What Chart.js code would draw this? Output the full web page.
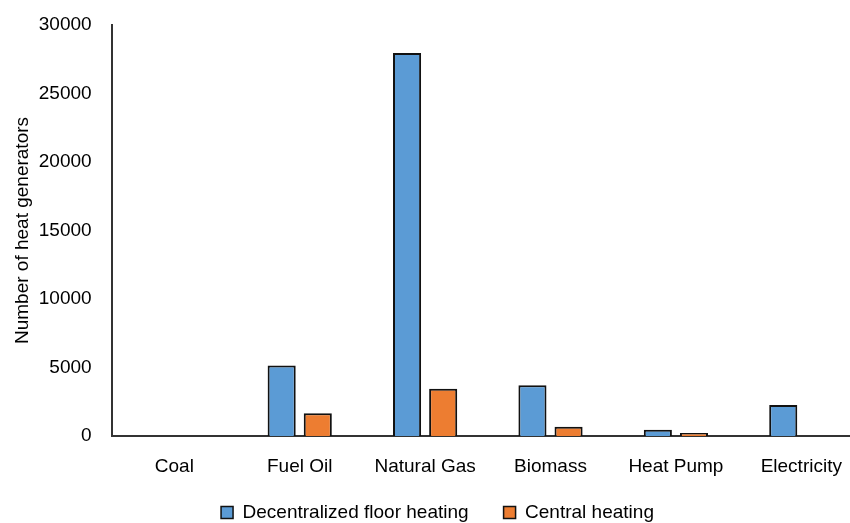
<!DOCTYPE html>
<html>
<head>
<meta charset="utf-8">
<script src="https://cdn.jsdelivr.net/npm/chart.js@4/dist/chart.umd.min.js"></script>
<style>
html,body{margin:0;padding:0;background:#fff;overflow:hidden;}
#wrap{width:850px;height:523px;overflow:hidden;}
</style>
</head>
<body>
<div id="wrap"><canvas id="c" width="864" height="523"></canvas></div>
<script>
const categories = ["Coal", "Fuel Oil", "Natural Gas", "Biomass", "Heat Pump", "Electricity"];
const decentralized = [0, 5150, 27950, 3700, 460, 2260];
const central = [0, 1660, 3450, 680, 220, 0];
const yTicks = [0, 5000, 10000, 15000, 20000, 25000, 30000];

const FONT = "'Liberation Sans', Arial, sans-serif";

const legendFix = {
  id: 'legendFix',
  afterInit(chart) {
    const lg = chart.legend;
    if (!lg) return;
    const origFit = lg.fit.bind(lg);
    lg.fit = function () { origFit(); this.height = 43; };
    const origDraw = lg._draw.bind(lg);
    lg._draw = function () {
      const ctx = this.ctx;
      ctx.save();
      ctx.translate(0, -12);
      origDraw();
      ctx.restore();
    };
  }
};

new Chart(document.getElementById('c'), {
  type: 'bar',
  data: {
    labels: categories,
    datasets: [
      {label: 'Decentralized floor heating', data: decentralized, backgroundColor: '#5B9BD5', borderColor: '#111', borderWidth: 2},
      {label: 'Central heating', data: central, backgroundColor: '#ED7D31', borderColor: '#111', borderWidth: 2}
    ]
  },
  plugins: [legendFix],
  options: {
    responsive: false,
    animation: false,
    devicePixelRatio: 1,
    categoryPercentage: 0.576,
    barPercentage: 0.778,
    layout: {padding: {top: 25, right: 0, left: 11, bottom: 0}},
    plugins: {
      tooltip: {enabled: false},
      legend: {
        position: 'bottom',
        labels: {
          font: {family: FONT, size: 19},
          color: '#000',
          boxWidth: 12,
          boxHeight: 12,
          padding: 35,
          generateLabels: (chart) => chart.data.datasets.map((ds, i) => ({
            text: ds.label, fillStyle: ds.backgroundColor, strokeStyle: '#111', lineWidth: 1.5,
            datasetIndex: i, hidden: false
          }))
        }
      }
    },
    scales: {
      x: {
        grid: {display: false, drawTicks: false},
        border: {display: true, color: '#333', width: 2},
        ticks: {font: {family: FONT, size: 19}, color: '#000', padding: 19},
        afterFit: (axis) => { axis.height = 44; axis.paddingLeft = 0; axis.paddingRight = 0; }
      },
      y: {
        min: 0, max: 30000,
        afterBuildTicks: (axis) => { axis.ticks = yTicks.map(v => ({value: v})); },
        grid: {display: false, drawTicks: false},
        border: {display: true, color: '#333', width: 2},
        ticks: {font: {family: FONT, size: 19}, color: '#000', padding: 20, callback: (v) => String(v)},
        title: {display: true, text: 'Number of heat generators', font: {family: FONT, size: 19}, color: '#000', padding: {top: 0, bottom: 6}},
        afterFit: (axis) => { axis.width -= 21; axis.paddingTop = 0; axis.paddingBottom = 0; }
      }
    }
  }
});
</script>
</body>
</html>
